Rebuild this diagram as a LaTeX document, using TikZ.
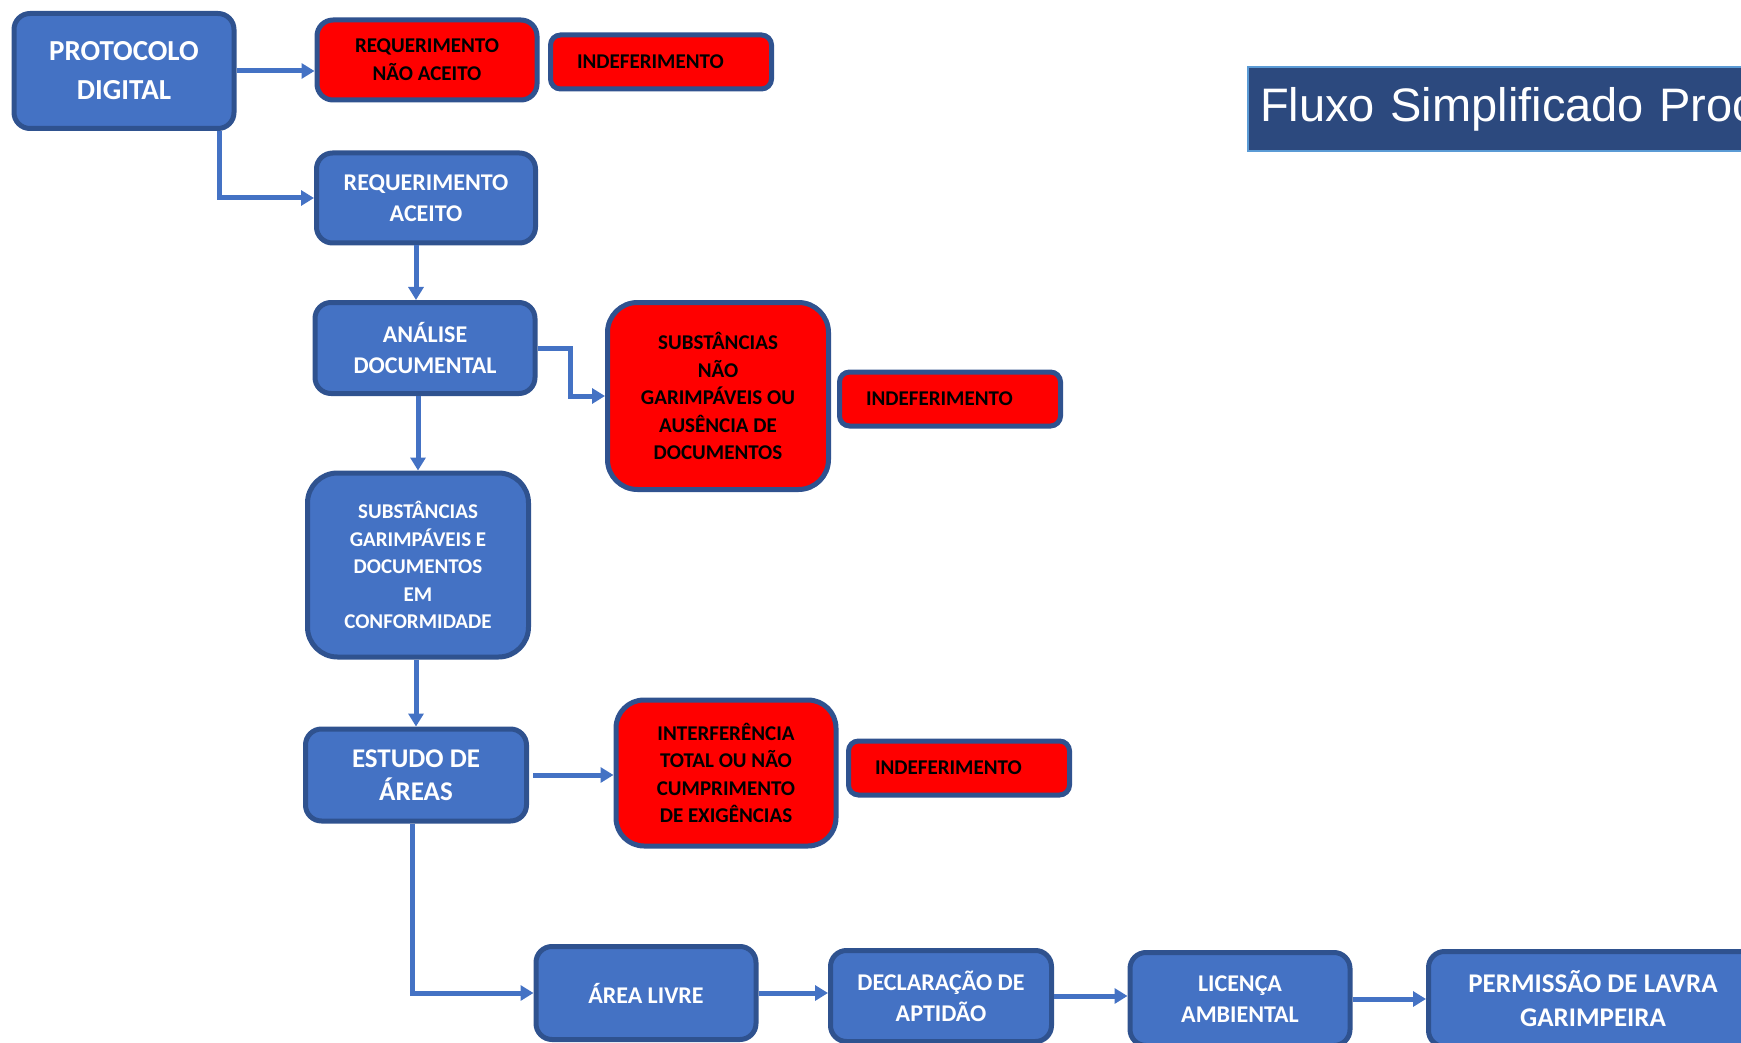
\documentclass[tikz,border=0pt]{standalone}
\usepackage{fontspec}
\setmainfont{Carlito}
\newfontfamily\titlefont{Liberation Sans}
\usetikzlibrary{arrows.meta}
\definecolor{box_blue}{RGB}{68,114,196}
\definecolor{edge_blue}{RGB}{47,82,143}
\definecolor{box_red}{RGB}{255,0,0}
\definecolor{title_blue}{RGB}{44,73,126}
\definecolor{title_edge}{RGB}{91,155,213}

\begin{document}
\begin{tikzpicture}[x=1pt,y=-1pt,>={Triangle[length=13pt,width=15pt]}]
    \tikzstyle{box}=[draw=edge_blue, line width=5pt, rounded corners=16pt, fill=box_blue, text=white, align=center, inner sep=0pt, font=\bfseries\fontsize{24}{31}\selectfont, minimum width=220pt, minimum height=91pt]
    \tikzstyle{tallbox}=[style=box, rounded corners=30pt, font=\bfseries\fontsize{21}{27.5}\selectfont]
    \tikzstyle{redbox}=[style=box, fill=box_red, text=black, font=\bfseries\fontsize{21}{27.5}\selectfont]
    \tikzstyle{indef}=[style=redbox, rounded corners=10pt, minimum width=221pt, minimum height=54pt, text width=168pt, align=left]
    \tikzstyle{link}=[->, draw=box_blue, line width=5pt]

    \useasboundingbox (0,0) rectangle (1741,1043);

    \node[draw=title_edge, line width=2pt, fill=title_blue, text=white, font=\titlefont\fontsize{47}{56}\selectfont, anchor=north west, minimum height=84pt, text width=500pt, inner xsep=12pt, align=left] (title) at (1247,66) {Fluxo Simplificado Proc};

    \node[box, minimum height=115pt, font=\bfseries\fontsize{29}{39}\selectfont] (proto) at (124,71) {PROTOCOLO\\DIGITAL};
    \node[redbox, minimum height=80pt, font=\bfseries\fontsize{21}{28}\selectfont] (reqna) at (427,60) {REQUERIMENTO\\NÃO ACEITO};
    \node[indef] (indef1) at (661,62) {INDEFERIMENTO};
    \node[box, minimum width=219pt, minimum height=90pt] (reqac) at (426,198) {REQUERIMENTO\\ACEITO};
    \node[box] (analise) at (425,348) {ANÁLISE\\DOCUMENTAL};
    \node[redbox, rounded corners=30pt, minimum width=221pt, minimum height=187pt] (subnao) at (718,396) {SUBSTÂNCIAS\\NÃO\\GARIMPÁVEIS OU\\AUSÊNCIA DE\\DOCUMENTOS};
    \node[indef] (indef2) at (950,399) {INDEFERIMENTO};
    \node[tallbox, minimum width=221pt, minimum height=184pt] (subgar) at (418,565) {SUBSTÂNCIAS\\GARIMPÁVEIS E\\DOCUMENTOS\\EM\\CONFORMIDADE};
    \node[box, minimum width=221pt, minimum height=92pt, font=\bfseries\fontsize{27}{33}\selectfont] (estudo) at (416,775) {ESTUDO DE\\ÁREAS};
    \node[redbox, rounded corners=28pt, minimum height=146pt] (interf) at (726,773) {INTERFERÊNCIA\\TOTAL OU NÃO\\CUMPRIMENTO\\DE EXIGÊNCIAS};
    \node[indef] (indef3) at (959,768) {INDEFERIMENTO};
    \node[box, minimum height=93pt] (livre) at (646,993) {ÁREA LIVRE};
    \node[box, minimum width=221pt] (declar) at (941,996) {DECLARAÇÃO DE\\APTIDÃO};
    \node[box, minimum height=93pt] (licenca) at (1240,999) {LICENÇA\\AMBIENTAL};
    \node[box, minimum width=329pt, minimum height=95pt, font=\bfseries\fontsize{27}{34}\selectfont] (permissao) at (1593,999) {PERMISSÃO DE LAVRA\\GARIMPEIRA};

    \draw[link] (proto.east) -- (proto.east -| reqna.west);
    \draw[link] ([xshift=-17pt]proto.south east) |- (reqac.west);
    \draw[link] ([xshift=-10pt]reqac.south) -- ([xshift=-9pt]analise.north);
    \draw[link] (analise.east) -- ++(33,0) |- (subnao.west);
    \draw[link] (analise.south -| subgar.north) -- (subgar.north);
    \draw[link] (subgar.south -| estudo.north) -- (estudo.north);
    \draw[link] ([xshift=4pt]estudo.east) -- (estudo.east -| interf.west);
    \draw[link] ([xshift=-4pt]estudo.south) |- (livre.west);
    \draw[link] (livre.east) -- (livre.east -| declar.west);
    \draw[link] (declar.east) -- (declar.east -| licenca.west);
    \draw[link] (licenca.east) -- (licenca.east -| permissao.west);
\end{tikzpicture}
\end{document}
